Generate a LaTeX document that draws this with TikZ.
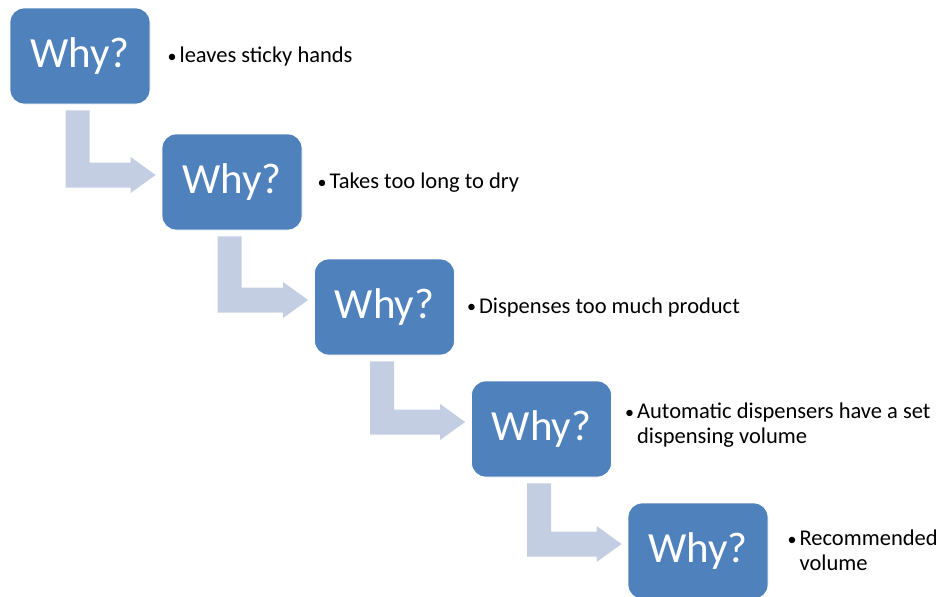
\documentclass[tikz,border=0pt]{standalone}
\usepackage{fontspec}
\setmainfont{Carlito}
\usetikzlibrary{calc}
\definecolor{boxblue}{HTML}{4F81BD}
\definecolor{arrowblue}{HTML}{C4CEE2}
\tikzset{
  whybox/.style={fill=boxblue, draw=white, line width=0.8pt, rounded corners=14pt,
    minimum width=140pt, minimum height=96pt, inner sep=0pt, text=white,
    font=\fontsize{43}{50}\selectfont},
  note/.style={anchor=west, inner sep=0pt, align=left, text=black,
    font=\fontsize{22.5}{24.5}\selectfont},
  bentarrow/.style={fill=arrowblue, draw=none}
}
\newcommand\whyarrow[2]{%
  \fill[bentarrow] let \p1=(#1.south west), \p2=(#2.west) in
    (\x1+56pt,\y1-6pt) -- (\x1+80pt,\y1-6pt) -- (\x1+80pt,\y2+19.5pt)
    -- (\x2-31pt,\y2+19.5pt) -- (\x2-31pt,\y2+25pt) -- (\x2-6pt,\y2+7pt)
    -- (\x2-31pt,\y2-11pt) -- (\x2-31pt,\y2-5.5pt) -- (\x1+56pt,\y2-5.5pt) -- cycle;}
\newcommand\bul{\makebox[12pt][l]{\raisebox{0.5pt}{\scalebox{0.8}{•}}}}
\begin{document}
\begin{tikzpicture}[x=1pt,y=-1pt]
  \useasboundingbox (0,0) rectangle (937,597);
  \clip (0,0) rectangle (937,597);
  \node[whybox] (b1) at (80,56) {Why?};
  \node[whybox] (b2) at (232,182) {Why?};
  \node[whybox] (b3) at (384.5,307) {Why?};
  \node[whybox] (b4) at (541.5,429) {Why?};
  \node[whybox] (b5) at (698,551) {Why?};
  \whyarrow{b1}{b2}
  \whyarrow{b2}{b3}
  \whyarrow{b3}{b4}
  \whyarrow{b4}{b5}
  \node[note] (t1) at ([xshift=17pt,yshift=-1pt]b1.east) {\bul leaves sticky hands};
  \node[note] (t2) at ([xshift=15pt,yshift=-1pt]b2.east) {\bul Takes too long to dry};
  \node[note] (t3) at ([xshift=12pt]b3.east) {\bul Dispenses too much product};
  \node[note] (t4) at ([xshift=13pt,yshift=3pt]b4.east)
    {\begin{tabular}{@{}l@{}l@{}}\bul&Automatic dispensers have a set\\&dispensing volume\end{tabular}};
  \node[note] (t5) at ([xshift=19pt,yshift=-2pt]b5.east)
    {\begin{tabular}{@{}l@{}l@{}}\bul&Recommended\\&volume\end{tabular}};
\end{tikzpicture}
\end{document}
